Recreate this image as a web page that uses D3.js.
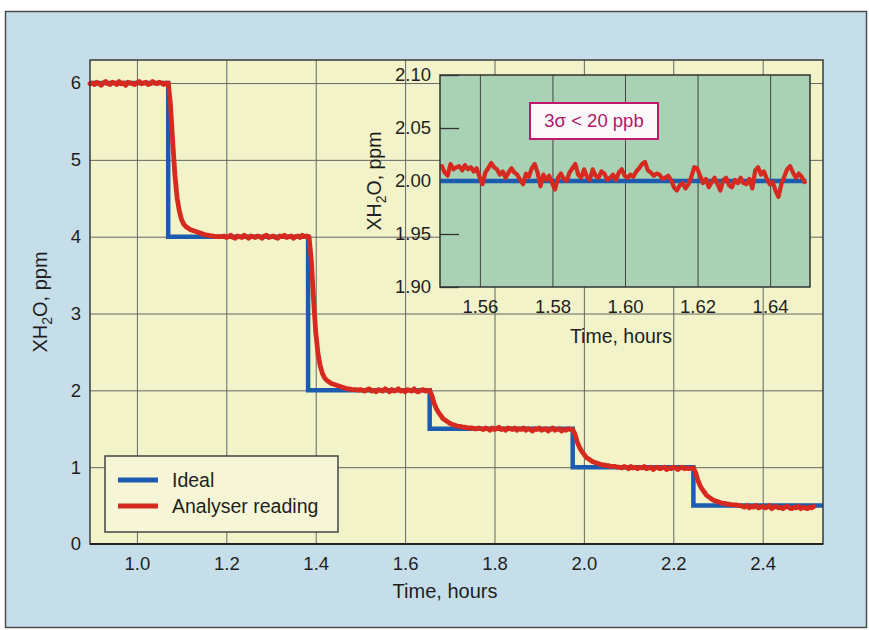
<!DOCTYPE html>
<html>
<head>
<meta charset="utf-8">
<script src="https://cdn.jsdelivr.net/npm/d3@7"></script>
<style>
  body { margin: 0; background: #fff; }
  svg { display: block; font-family: "Liberation Sans", Arial, sans-serif; }
  .tick text { font-size: 18.5px; fill: #1e1e1e; font-family: "Liberation Sans", Arial, sans-serif; }
</style>
</head>
<body>
<div id="chart"></div>
<script>
// main chart ticks
const xTicks = [1.0, 1.2, 1.4, 1.6, 1.8, 2.0, 2.2, 2.4];
const yTicks = [0, 1, 2, 3, 4, 5, 6];

// ideal set-point (step after each time)
const idealTimes = [0.895, 1.07, 1.383, 1.655, 1.975, 2.245, 2.535];
const idealLevels = [6, 4, 2, 1.5, 1, 0.5, 0.5];

// analyser reading, sampled every 0.005 h from 0.895 h
const readingStart = 0.895;
const readingStep = 0.005;
const readingValues = [
  5.99, 6.00, 5.98, 6.01, 5.99, 5.97, 6.00, 6.02, 5.99, 5.98,
  6.01, 6.00, 5.98, 6.02, 5.99, 6.00, 5.97, 6.01, 6.00, 5.99,
  5.98, 6.00, 6.02, 5.99, 6.00, 6.01, 5.98, 5.99, 6.02, 6.00,
  5.99, 6.01, 6.00, 5.98, 6.00, 6.00,
  5.72, 5.24, 4.80, 4.50, 4.33, 4.22, 4.16, 4.13, 4.11, 4.09,
  4.08, 4.07, 4.06, 4.05, 4.04, 4.03, 4.02, 4.02, 4.01, 4.01,
  4.00, 4.00, 4.00, 4.00, 4.01, 3.99, 4.00, 4.02, 3.99, 3.98,
  4.01, 4.00, 3.99, 4.02, 4.00, 3.98, 4.01, 4.00, 3.99, 4.01,
  4.00, 3.98, 4.01, 4.02, 3.99, 4.00, 4.01, 3.99, 3.98, 4.01,
  4.00, 4.02, 3.99, 4.00, 4.01, 3.98, 4.00, 4.01, 3.99, 4.02,
  4.00, 4.01, 4.00,
  3.70, 3.20, 2.76, 2.48, 2.32, 2.22, 2.16, 2.13, 2.11, 2.09,
  2.08, 2.07, 2.06, 2.05, 2.04, 2.03, 2.02, 2.02, 2.01, 2.01,
  2.01, 2.00, 2.01, 2.00, 1.99, 2.01, 2.02, 1.99, 2.00, 1.98,
  2.01, 2.00, 1.99, 2.02, 2.00, 1.98, 2.01, 1.99, 2.00, 2.02,
  1.99, 2.00, 1.98, 2.01, 2.00, 1.99, 2.02, 1.99, 1.98, 2.00,
  2.01, 1.99, 2.00, 2.00,
  1.93, 1.83, 1.76, 1.71, 1.67, 1.63, 1.61, 1.59, 1.57, 1.56,
  1.55, 1.54, 1.53, 1.53, 1.52, 1.52, 1.51, 1.51, 1.51, 1.50,
  1.50, 1.51, 1.50, 1.49, 1.51, 1.50, 1.48, 1.51, 1.49, 1.50,
  1.52, 1.49, 1.50, 1.48, 1.51, 1.50, 1.49, 1.51, 1.48, 1.50,
  1.49, 1.51, 1.48, 1.50, 1.49, 1.47, 1.50, 1.49, 1.51, 1.48,
  1.49, 1.50, 1.47, 1.49, 1.51, 1.48, 1.49, 1.50, 1.47, 1.49,
  1.48, 1.50, 1.49, 1.49,
  1.43, 1.33, 1.26, 1.21, 1.17, 1.13, 1.11, 1.09, 1.07, 1.06,
  1.05, 1.04, 1.03, 1.03, 1.02, 1.02, 1.01, 1.01, 1.01, 1.00,
  1.00, 0.99, 1.01, 1.00, 0.98, 1.01, 0.99, 1.00, 0.98, 1.00,
  0.99, 1.01, 0.98, 0.99, 1.00, 0.97, 0.99, 1.00, 0.98, 0.99,
  1.00, 0.97, 0.99, 0.98, 1.00, 0.99, 0.97, 0.99, 1.00, 0.98,
  0.99, 0.98, 0.99, 0.99,
  0.93, 0.83, 0.76, 0.71, 0.67, 0.63, 0.61, 0.59, 0.57, 0.56,
  0.55, 0.54, 0.53, 0.53, 0.52, 0.52, 0.51, 0.51, 0.51, 0.50,
  0.50, 0.49, 0.48, 0.50, 0.47, 0.49, 0.48, 0.50, 0.47, 0.48,
  0.49, 0.47, 0.48, 0.50, 0.46, 0.48, 0.49, 0.47, 0.48, 0.46,
  0.48, 0.49, 0.47, 0.46, 0.48, 0.47, 0.49, 0.46, 0.48, 0.47,
  0.46, 0.48, 0.47, 0.49
];

// inset ticks
const insetXTicks = [1.56, 1.58, 1.60, 1.62, 1.64];
const insetYTicks = [1.90, 1.95, 2.00, 2.05, 2.10];

// inset ideal and reading (sampled every 0.0008 h from 1.5495 h)
const insetIdealTimes = [1.5492, 1.6500];
const insetIdealLevels = [2.0, 2.0];
const insetStart = 1.5495;
const insetStep = 0.0008;
const insetValues = [
  2.014, 2.008, 2.005, 2.016, 2.011, 2.013, 2.014, 2.010, 2.015, 2.011,
  2.013, 2.009, 2.012, 2.004, 1.997, 2.008, 2.012, 2.017, 2.013, 2.011,
  2.006, 2.009, 2.003, 2.008, 2.012, 2.008, 2.006, 2.001, 1.997, 2.007,
  2.004, 2.012, 2.016, 2.008, 1.995, 2.006, 2.001, 2.005, 1.998, 1.992,
  2.003, 2.007, 2.002, 2.000, 2.008, 2.012, 2.016, 2.006, 2.003, 2.011,
  2.004, 2.001, 2.011, 2.005, 2.003, 2.009, 2.007, 2.001, 2.003, 2.006,
  2.001, 2.008, 2.011, 2.005, 2.003, 2.006, 2.004, 2.009, 2.012, 2.016,
  2.018, 2.010, 2.008, 2.005, 2.007, 2.006, 2.002, 2.003, 2.005, 2.001,
  1.994, 1.991, 1.996, 1.998, 1.993, 1.997, 2.004, 2.013, 2.012, 2.005,
  1.998, 2.002, 1.994, 1.999, 2.003, 1.997, 1.991, 2.001, 2.003, 1.996,
  1.994, 2.001, 1.998, 2.003, 1.998, 1.997, 2.002, 1.993, 2.010, 2.013,
  2.006, 2.009, 2.002, 1.997, 1.999, 1.991, 1.985, 1.997, 2.004, 2.011,
  2.014, 2.008, 2.003, 2.007, 2.004, 1.999
];

const legendItems = [
  { label: "Ideal", color: "#1c5cb0" },
  { label: "Analyser reading", color: "#d6291f" }
];

const width = 869, height = 630;
const blue = "#1c5cb0", red = "#d6291f";

const svg = d3.select("#chart").append("svg")
  .attr("width", width)
  .attr("height", height);

// outer panel
svg.append("rect")
  .attr("x", 5.5).attr("y", 11.5)
  .attr("width", 861).attr("height", 616)
  .attr("fill", "#c6deea")
  .attr("stroke", "#4d4d4d")
  .attr("stroke-width", 1.5);

// main chart
const plot = { left: 90, right: 823, top: 60, bottom: 544 };
const x = d3.scaleLinear().domain([0.895, 2.535]).range([plot.left, plot.right]);
const y = d3.scaleLinear().domain([0, 6.3]).range([plot.bottom, plot.top]);

svg.append("rect")
  .attr("x", plot.left).attr("y", plot.top)
  .attr("width", plot.right - plot.left).attr("height", plot.bottom - plot.top)
  .attr("fill", "#f2f3c8");

const gx = svg.append("g")
  .attr("transform", `translate(0,${plot.bottom})`)
  .call(d3.axisBottom(x).tickValues(xTicks)
    .tickSize(-(plot.bottom - plot.top)).tickPadding(13)
    .tickFormat(d3.format(".1f")));
gx.select(".domain").remove();
gx.selectAll(".tick line").attr("stroke", "#666").attr("stroke-width", 1);

const gy = svg.append("g")
  .attr("transform", `translate(${plot.left},0)`)
  .call(d3.axisLeft(y).tickValues(yTicks)
    .tickSize(-(plot.right - plot.left)).tickPadding(9)
    .tickFormat(d3.format("d")));
gy.select(".domain").remove();
gy.selectAll(".tick line").attr("stroke", "#666").attr("stroke-width", 1);

const idealLine = d3.line()
  .x((d, i) => x(idealTimes[i]))
  .y(d => y(d))
  .curve(d3.curveStepAfter);

svg.append("path")
  .attr("d", idealLine(idealLevels))
  .attr("fill", "none")
  .attr("stroke", blue)
  .attr("stroke-width", 4.5);

const readingLine = d3.line()
  .x((d, i) => x(readingStart + i * readingStep))
  .y(d => y(d));

svg.append("path")
  .attr("d", readingLine(readingValues))
  .attr("fill", "none")
  .attr("stroke", red)
  .attr("stroke-width", 4.8)
  .attr("stroke-linejoin", "round")
  .attr("stroke-linecap", "round");

// frame
svg.append("rect")
  .attr("x", plot.left).attr("y", plot.top)
  .attr("width", plot.right - plot.left).attr("height", plot.bottom - plot.top)
  .attr("fill", "none")
  .attr("stroke", "#3a3a3a")
  .attr("stroke-width", 1.5);
svg.append("line")
  .attr("x1", plot.left).attr("x2", plot.right)
  .attr("y1", plot.bottom).attr("y2", plot.bottom)
  .attr("stroke", "#222").attr("stroke-width", 2);

// axis titles
const yTitle = svg.append("text")
  .attr("transform", `translate(47,${(plot.top + plot.bottom) / 2}) rotate(-90)`)
  .attr("text-anchor", "middle")
  .attr("font-size", 20)
  .attr("fill", "#1e1e1e");
yTitle.append("tspan").text("XH");
yTitle.append("tspan").attr("font-size", 14).attr("dy", 5).text("2");
yTitle.append("tspan").attr("dy", -5).text("O, ppm");

svg.append("text")
  .attr("x", 445).attr("y", 598)
  .attr("text-anchor", "middle")
  .attr("font-size", 20)
  .attr("fill", "#1e1e1e")
  .text("Time, hours");

// inset
const inset = { left: 440, right: 810, top: 75, bottom: 287 };
const xi = d3.scaleLinear().domain([1.549, 1.651]).range([inset.left, inset.right]);
const yi = d3.scaleLinear().domain([1.90, 2.10]).range([inset.bottom, inset.top]);

svg.append("rect")
  .attr("x", inset.left).attr("y", inset.top)
  .attr("width", inset.right - inset.left).attr("height", inset.bottom - inset.top)
  .attr("fill", "#a9d1b3");

const gxi = svg.append("g")
  .attr("transform", `translate(0,${inset.bottom})`)
  .call(d3.axisBottom(xi).tickValues(insetXTicks)
    .tickSize(-(inset.bottom - inset.top)).tickPadding(13)
    .tickFormat(d3.format(".2f")));
gxi.select(".domain").remove();
gxi.selectAll(".tick line").attr("stroke", "#444").attr("stroke-width", 1);

const gyi = svg.append("g")
  .attr("transform", `translate(${inset.left},0)`)
  .call(d3.axisLeft(yi).tickValues(insetYTicks)
    .tickSize(-19).tickPadding(9)
    .tickFormat(d3.format(".2f")));
gyi.select(".domain").remove();
gyi.selectAll(".tick line").attr("stroke", "#333").attr("stroke-width", 1.3);

const insetIdealLine = d3.line()
  .x((d, i) => xi(insetIdealTimes[i]))
  .y(d => yi(d));

svg.append("path")
  .attr("d", insetIdealLine(insetIdealLevels))
  .attr("fill", "none")
  .attr("stroke", blue)
  .attr("stroke-width", 4.5);

const insetLine = d3.line()
  .x((d, i) => xi(insetStart + i * insetStep))
  .y(d => yi(d));

svg.append("path")
  .attr("d", insetLine(insetValues))
  .attr("fill", "none")
  .attr("stroke", red)
  .attr("stroke-width", 4.2)
  .attr("stroke-linejoin", "round")
  .attr("stroke-linecap", "round");

svg.append("rect")
  .attr("x", inset.left).attr("y", inset.top)
  .attr("width", inset.right - inset.left).attr("height", inset.bottom - inset.top)
  .attr("fill", "none")
  .attr("stroke", "#333")
  .attr("stroke-width", 1.5);

// noise annotation
svg.append("rect")
  .attr("x", 530).attr("y", 103)
  .attr("width", 128).attr("height", 36)
  .attr("fill", "#fbf8fa")
  .attr("stroke", "#c0186e")
  .attr("stroke-width", 2);
svg.append("text")
  .attr("x", 594).attr("y", 127)
  .attr("text-anchor", "middle")
  .attr("font-size", 18.5)
  .attr("fill", "#b0166a")
  .text("3σ < 20 ppb");

const yiTitle = svg.append("text")
  .attr("transform", `translate(381,${(inset.top + inset.bottom) / 2}) rotate(-90)`)
  .attr("text-anchor", "middle")
  .attr("font-size", 19.5)
  .attr("fill", "#1e1e1e");
yiTitle.append("tspan").text("XH");
yiTitle.append("tspan").attr("font-size", 14).attr("dy", 5).text("2");
yiTitle.append("tspan").attr("dy", -5).text("O, ppm");

svg.append("text")
  .attr("x", 621).attr("y", 343)
  .attr("text-anchor", "middle")
  .attr("font-size", 19.5)
  .attr("fill", "#1e1e1e")
  .text("Time, hours");

// legend
const legend = svg.append("g").attr("transform", "translate(105,456)");
legend.append("rect")
  .attr("width", 233).attr("height", 76)
  .attr("fill", "#f6f6d6")
  .attr("stroke", "#444")
  .attr("stroke-width", 1.5);
const item = legend.selectAll(".item")
  .data(legendItems)
  .enter().append("g")
  .attr("class", "item")
  .attr("transform", (d, i) => `translate(0,${24 + i * 26})`);
item.append("line")
  .attr("x1", 13).attr("x2", 53)
  .attr("stroke", d => d.color)
  .attr("stroke-width", 5);
item.append("text")
  .attr("x", 67).attr("y", 7)
  .attr("font-size", 19.5)
  .attr("fill", "#1e1e1e")
  .text(d => d.label);
</script>
</body>
</html>
